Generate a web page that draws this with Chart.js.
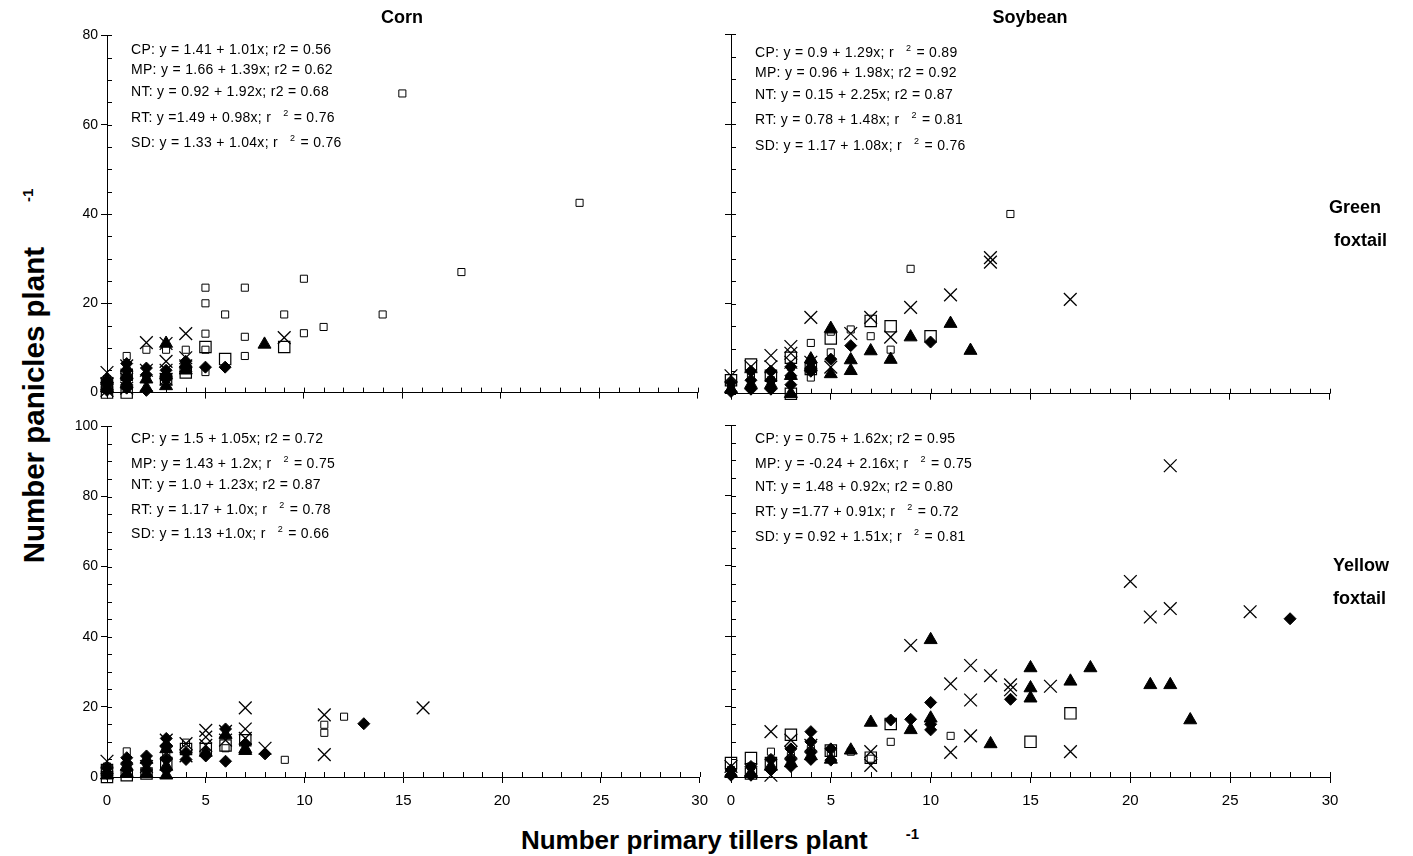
<!DOCTYPE html>
<html>
<head>
<meta charset="utf-8">
<script src="https://cdn.jsdelivr.net/npm/chart.js@4.4.0/dist/chart.umd.min.js"></script>
<style>
  body { margin: 0; background: #fff; width: 1413px; height: 856px; position: relative; overflow: hidden;
         font-family: "Liberation Sans", Arial, sans-serif; color: #000; }
  canvas { position: absolute; }
  .t { position: absolute; white-space: nowrap; z-index: 2; }
  .eq { font-size: 14px; line-height: 16px; letter-spacing: 0.3px; }
  .eq sup { font-size: 9px; vertical-align: top; position: relative; top: -4px; margin-left: 12px; margin-right: 1px; }
  .h { font-weight: bold; font-size: 18px; line-height: 20px; }
  .ax { font-weight: bold; font-size: 26px; line-height: 30px; }
  .ax sup { font-size: 15px; vertical-align: top; position: relative; top: -6px; }
</style>
</head>
<body>
<canvas id="cornGreen" width="651" height="380" style="left:57px;top:24px"></canvas>
<canvas id="soyGreen" width="624" height="380" style="left:716px;top:24px"></canvas>
<canvas id="cornYellow" width="660" height="400" style="left:57px;top:415px"></canvas>
<canvas id="soyYellow" width="634" height="400" style="left:716px;top:415px"></canvas>

<div class="t h" style="left:402px;top:7px;transform:translateX(-50%)">Corn</div>
<div class="t h" style="left:1030px;top:7px;transform:translateX(-50%)">Soybean</div>
<div class="t h" style="left:1329px;top:191px;line-height:33px">Green<br>&nbsp;foxtail</div>
<div class="t h" style="left:1333px;top:549px;line-height:33px">Yellow<br>foxtail</div>
<div class="t ax" style="left:34px;top:376px;font-size:29.5px;transform:translate(-50%,-50%) rotate(-90deg)">Number panicles plant<sup style="margin-left:45px">-1</sup></div>
<div class="t ax" style="left:720px;top:840px;transform:translate(-50%,-50%)">Number primary tillers plant<sup style="margin-left:38px">-1</sup></div>

<script>
// treatments / marker order
const treatments = ['CP', 'MP', 'NT', 'RT', 'SD'];
const xTicks = [0, 5, 10, 15, 20, 25, 30];
const yTicksGreen = [0, 20, 40, 60, 80];
const yTicksYellow = [0, 20, 40, 60, 80, 100];

// corn, green foxtail  [tillers, panicles]
const cornGreenCP = [[15,67],[24,42.5],[18,27],[10,25.5],[5,23.5],[7,23.5],[5,20],[6,17.5],[9,17.5],[14,17.5],[11,14.7],[10,13.3],[5,13.2],[7,12.5],[2,9.6],[3,9.6],[4,9.6],[5,9.6],[7,8.2],[1,8.2],[5,4.6],[0,1],[0,3],[1,2],[1,5],[2,3],[3,4],[4,6]];
const cornGreenMP = [[2,11.2],[3,11],[4,13.2],[9,12.3],[4,7.8],[3,7],[0,4.5],[0,2],[1,3],[1,6],[2,5],[3,5],[3,3],[4,6],[0,0.5],[1,1]];
const cornGreenNT = [[8,10.8],[3,11],[0,1],[0,3],[1,2],[1,4],[2,1],[2,3],[3,1.5],[3,4],[4,5],[4,6.5]];
const cornGreenRT = [[5,5.7],[6,5.7],[0,0.5],[0,2],[1,1],[1,3],[1,5],[1,6.5],[2,0.5],[2,4],[2,5.5],[3,3],[3,5],[4,5.5],[4,7]];
const cornGreenSD = [[9,10.2],[5,10.2],[6,7.5],[1,0],[0,0],[0,2],[1,4],[3,3],[4,4.5]];

// soybean, green foxtail
const soyGreenCP = [[14,40],[9,27.8],[7,12.8],[8,9.8],[6,14.3],[4,11.3],[5,13.8],[5,9.2],[4,3.6],[0,2],[1,4],[2,3],[3,6],[4,5]];
const soyGreenMP = [[13,30.3],[13,29.3],[11,22],[17,21],[9,19.2],[4,17],[7,17],[8,12.6],[6,13.4],[3,10.5],[3,9],[2,8.5],[5,5.9],[0,4],[1,6],[2,6],[3,7],[4,7]];
const soyGreenNT = [[5,14.5],[9,12.6],[11,15.6],[12,9.6],[7,9.5],[8,7.6],[6,7.5],[6,5.1],[5,4.4],[4,7.7],[3,0],[0,1],[1,2],[2,2],[3,4],[4,6]];
const soyGreenRT = [[10,11.5],[6,10.7],[5,7.7],[0,0.5],[0,2.5],[1,1],[1,3],[1,5],[2,1],[2,3],[2,5],[3,2],[3,4],[3,6],[4,5],[4,7]];
const soyGreenSD = [[7,16.2],[8,15],[10,12.8],[5,12.3],[3,0],[0,3],[1,6.5],[2,4],[3,8],[4,5.5]];

// corn, yellow foxtail
const cornYellowCP = [[12,17.2],[11,14.9],[11,12.6],[9,4.9],[6,8.2],[4,9.8],[1,7.3],[0,1],[0,3],[2,4],[3,6],[5,7]];
const cornYellowMP = [[16,19.7],[7,19.7],[11,17.7],[11,6.4],[8,8.2],[5,13.3],[5,11.4],[6,13],[7,13.7],[7,11],[4,9.5],[4,6],[3,10.5],[0,4.5],[1,2],[2,3],[3,7],[5,9],[6,10.5]];
const cornYellowNT = [[7,8],[7,7.5],[3,0.5],[0,0.5],[1,1],[1,3],[2,1],[2,5],[3,3],[3,8],[5,7],[6,12]];
const cornYellowRT = [[13,15.2],[8,6.6],[6,13.7],[6,4.5],[0,1],[0,2.5],[1,2],[1,4],[1,5.5],[2,2],[2,4],[2,6],[3,2],[3,5],[3,9],[3,11],[4,5],[4,7],[5,6],[7,9.5]];
const cornYellowSD = [[0,0],[0,2],[1,0.5],[2,1],[3,4],[4,8],[5,8],[6,9],[7,10.5]];

// soybean, yellow foxtail
const soyYellowCP = [[11,11.7],[8,10],[7,5.2],[6,7.2],[5,6.7],[2,7.2],[0,2],[1,3],[3,6],[4,8]];
const soyYellowMP = [[22,88.5],[20,55.6],[21,45.5],[22,47.9],[26,47],[9,37.4],[12,31.7],[13,28.8],[11,26.5],[14,26.2],[14,24.8],[16,25.8],[12,21.9],[12,11.7],[11,7],[17,7.2],[7,7.2],[7,3.3],[3,10.5],[2,12.9],[2,0.5],[0,3],[1,2],[3,7],[4,9]];
const soyYellowNT = [[10,39],[15,31],[18,31],[17,27.2],[15,25.3],[15,22.4],[21,26.2],[22,26.2],[23,16.2],[13,9.4],[10,16.7],[9,13.4],[7,15.5],[6,7.6],[0,1],[1,1],[2,3],[3,4],[4,6],[5,5]];
const soyYellowRT = [[28,45],[14,22.1],[10,21.2],[10,13.4],[9,16.4],[8,16.2],[5,4.8],[4,12.9],[4,10],[4,7],[4,5],[3,8],[3,5],[3,3],[2,2],[2,5],[1,0.5],[1,3],[0,0.5],[0,2],[5,8],[10,15]];
const soyYellowSD = [[17,18.1],[15,10],[8,15.1],[3,12],[1,5.4],[0,4],[7,5.5],[5,7.5],[2,4],[1,1]];

// regression labels (^2 = raised 2)
const eqCornGreen = ['CP: y = 1.41 + 1.01x; r2 = 0.56', 'MP: y = 1.66 + 1.39x; r2 = 0.62', 'NT: y = 0.92 + 1.92x; r2 = 0.68', 'RT: y =1.49 + 0.98x; r^2 = 0.76', 'SD: y = 1.33 + 1.04x; r^2 = 0.76'];
const eqSoyGreen = ['CP: y = 0.9 + 1.29x; r^2 = 0.89', 'MP: y = 0.96 + 1.98x; r2 = 0.92', 'NT: y = 0.15 + 2.25x; r2 = 0.87', 'RT: y = 0.78 + 1.48x; r^2 = 0.81', 'SD: y = 1.17 + 1.08x; r^2 = 0.76'];
const eqCornYellow = ['CP: y = 1.5 + 1.05x; r2 = 0.72', 'MP: y = 1.43 + 1.2x; r^2 = 0.75', 'NT: y = 1.0 + 1.23x; r2 = 0.87', 'RT: y = 1.17 + 1.0x; r^2 = 0.78', 'SD: y = 1.13 +1.0x; r^2 = 0.66'];
const eqSoyYellow = ['CP: y = 0.75 + 1.62x; r2 = 0.95', 'MP: y = -0.24 + 2.16x; r^2 = 0.75', 'NT: y = 1.48 + 0.92x; r2 = 0.80', 'RT: y =1.77 + 0.91x; r^2 = 0.72', 'SD: y = 0.92 + 1.51x; r^2 = 0.81'];

// marker look per treatment
const markers = {
  CP: { pointStyle: 'rect', pointRadius: 5, pointBackgroundColor: 'rgba(0,0,0,0)', pointBorderWidth: 1 },
  MP: { pointStyle: 'crossRot', pointRadius: 9, pointBorderWidth: 1.3 },
  NT: { pointStyle: 'triangle', pointRadius: 7.5, pointBackgroundColor: '#000', pointBorderWidth: 1 },
  RT: { pointStyle: 'rectRot', pointRadius: 6, pointBackgroundColor: '#000', pointBorderWidth: 1 },
  SD: { pointStyle: 'rect', pointRadius: 8, pointBackgroundColor: 'rgba(0,0,0,0)', pointBorderWidth: 1.2 },
};

// small inner ticks: every 1 on x, every 5 on y
const minorTicks = {
  id: 'minorTicks',
  afterDraw(chart) {
    const { ctx, chartArea: a } = chart, x = chart.scales.x, y = chart.scales.y;
    ctx.save();
    ctx.strokeStyle = '#000'; ctx.lineWidth = 1;
    ctx.beginPath();
    for (let v = 0; v <= x.max; v++) {
      let px = Math.round(x.getPixelForValue(v)) + 0.5;
      ctx.moveTo(px, a.bottom); ctx.lineTo(px, a.bottom - 5);
    }
    for (let v = 0; v <= y.max; v += 5) {
      let py = Math.round(y.getPixelForValue(v)) + 0.5;
      ctx.moveTo(a.left, py); ctx.lineTo(a.left + 5, py);
    }
    ctx.stroke();
    ctx.restore();
  }
};

function panel(id, sets, yTicks, showX, showY, yW, xH, padR) {
  let datasets = treatments.map((t, i) => Object.assign({
    label: t,
    data: sets[i].map(p => ({ x: p[0], y: p[1] })),
    pointBorderColor: '#000',
    clip: false,
  }, markers[t]));

  return new Chart(document.getElementById(id), {
    type: 'scatter',
    data: { datasets },
    options: {
      responsive: false, animation: false, devicePixelRatio: 1,
      layout: { padding: { top: 10, right: padR, left: 0, bottom: 0 } },
      plugins: { legend: { display: false }, tooltip: { enabled: false } },
      scales: {
        x: {
          type: 'linear', min: xTicks[0], max: xTicks[xTicks.length - 1],
          afterBuildTicks: s => { s.ticks = xTicks.map(v => ({ value: v })); },
          ticks: { display: showX, color: '#000', padding: 9, font: { size: 15 } },
          grid: { drawOnChartArea: false, color: '#000', tickLength: 6 },
          border: { color: '#000', width: 1 },
          afterFit: s => { s.height = xH; },
        },
        y: {
          type: 'linear', min: 0, max: yTicks[yTicks.length - 1],
          afterBuildTicks: s => { s.ticks = yTicks.map(v => ({ value: v })); },
          ticks: { display: showY, color: '#000', padding: 3, font: { size: 14 } },
          grid: { drawOnChartArea: false, color: '#000', tickLength: 6 },
          border: { color: '#000', width: 1 },
          afterFit: s => { s.width = yW; },
        }
      }
    },
    plugins: [minorTicks]
  });
}

function equations(lines, left, tops) {
  lines.forEach((s, i) => {
    let d = document.createElement('div');
    d.className = 't eq';
    d.style.left = left + 'px';
    d.style.top = (tops[i] - 8) + 'px';
    d.innerHTML = s.replace('^2', '<sup>2</sup>');
    document.body.appendChild(d);
  });
}

Chart.defaults.font.family = '"Liberation Sans", Arial, sans-serif';

panel('cornGreen', [cornGreenCP, cornGreenMP, cornGreenNT, cornGreenRT, cornGreenSD], yTicksGreen, false, true, 50, 10, 10);
panel('soyGreen', [soyGreenCP, soyGreenMP, soyGreenNT, soyGreenRT, soyGreenSD], yTicksGreen, false, false, 15, 10, 10);
panel('cornYellow', [cornYellowCP, cornYellowMP, cornYellowNT, cornYellowRT, cornYellowSD], yTicksYellow, true, true, 50, 38, 10);
panel('soyYellow', [soyYellowCP, soyYellowMP, soyYellowNT, soyYellowRT, soyYellowSD], yTicksYellow, true, false, 15, 38, 20);

equations(eqCornGreen, 131, [49, 69, 91, 117, 142]);
equations(eqSoyGreen, 755, [52, 72, 94, 119, 145]);
equations(eqCornYellow, 131, [438, 463, 484, 509, 533]);
equations(eqSoyYellow, 755, [438, 463, 486, 511, 536]);
</script>
</body>
</html>
